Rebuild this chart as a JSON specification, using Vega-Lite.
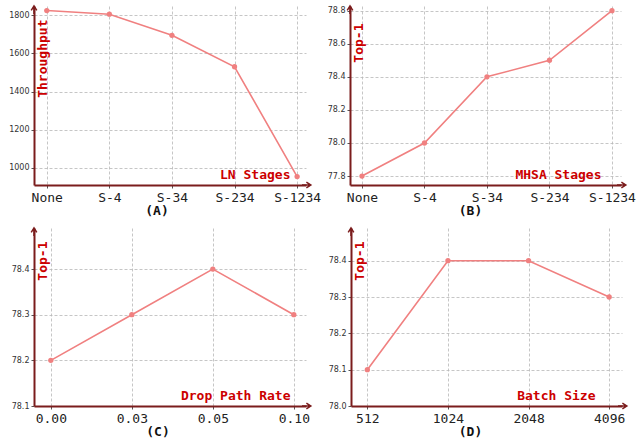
{
  "$schema": "https://vega.github.io/schema/vega-lite/v6.json",
  "background": "white",
  "padding": {"left": 8, "top": 3, "right": 0, "bottom": 0},
  "spacing": 7,
  "config": {
    "view": {"stroke": null},
    "axis": {"gridColor": "#b8b8b8", "gridDash": [3, 2], "gridWidth": 0.8, "domainColor": "#7b1c1c", "domainWidth": 2, "tickColor": "#555555", "tickSize": 3, "titleFont": "DejaVu Sans Mono", "titleFontSize": 13, "titleFontWeight": "bold", "titleColor": "#cc0000", "labelColor": "#222222"},
    "axisX": {"labelFont": "DejaVu Sans Mono", "labelFontSize": 13, "labelAngle": 0, "labelPadding": 3, "titleAngle": 0, "titleAlign": "right", "titleBaseline": "alphabetic"},
    "axisY": {"labelFont": "DejaVu Sans", "labelFontSize": 8, "labelColor": "#333333", "labelPadding": 2, "titleAngle": -90, "titleAlign": "right", "titleBaseline": "top"},
    "title": {"font": "DejaVu Sans Mono", "fontSize": 13, "fontWeight": "bold", "color": "#111111", "orient": "bottom", "offset": 1},
    "line": {"color": "#f08080", "strokeWidth": 1.6},
    "point": {"color": "#f08080", "filled": true, "size": 28, "opacity": 1}
  },
  "vconcat": [
    {
      "spacing": 6,
      "hconcat": [
        {
          "width": 272, "height": 179,
          "title": {"text": "(A)", "dx": -13},
          "data": {"values": [
            {"stage": "None", "throughput": 1825},
            {"stage": "S-4", "throughput": 1806},
            {"stage": "S-34", "throughput": 1695},
            {"stage": "S-234", "throughput": 1530},
            {"stage": "S-1234", "throughput": 953}
          ]},
          "encoding": {
            "x": {"field": "stage", "type": "ordinal", "sort": null, "scale": {"type": "point", "padding": 0.173, "align": 0.59},
                  "axis": {"title": "LN Stages", "grid": true, "titleX": 256, "titleY": -7}},
            "y": {"field": "throughput", "type": "quantitative", "scale": {"domain": [909, 1849], "nice": false, "zero": false},
                  "axis": {"title": "Throughput", "values": [1000, 1200, 1400, 1600, 1800], "format": "d", "titleX": 2, "titleY": 13}}
          },
          "layer": [
            {"mark": "line"},
            {"mark": "point"},
            {"data": {"values": [{}]}, "mark": {"type": "point", "shape": "M -1 0 L 1.2 0 M 0.1 -0.7 L 1.2 0 L 0.1 0.7", "size": 64, "filled": false, "stroke": "#7b1c1c", "strokeWidth": 1.5, "opacity": 1}, "encoding": {"x": {"value": "width"}, "y": {"value": "height"}}},
            {"data": {"values": [{}]}, "mark": {"type": "point", "shape": "M 0 0 L 0 2 M -0.7 1.1 L 0 0 L 0.7 1.1", "size": 64, "filled": false, "stroke": "#7b1c1c", "strokeWidth": 1.5, "opacity": 1}, "encoding": {"x": {"value": 0}, "y": {"value": 0}}}
          ]
        },
        {
          "width": 271, "height": 179,
          "title": {"text": "(B)", "dx": -15},
          "data": {"values": [
            {"stage": "None", "top1": 77.8},
            {"stage": "S-4", "top1": 78.0},
            {"stage": "S-34", "top1": 78.4},
            {"stage": "S-234", "top1": 78.5},
            {"stage": "S-1234", "top1": 78.8}
          ]},
          "encoding": {
            "x": {"field": "stage", "type": "ordinal", "sort": null, "scale": {"type": "point", "padding": 0.168, "align": 0.57},
                  "axis": {"title": "MHSA Stages", "grid": true, "titleX": 251, "titleY": -7}},
            "y": {"field": "top1", "type": "quantitative", "scale": {"domain": [77.746, 78.828], "nice": false, "zero": false},
                  "axis": {"title": "Top-1", "values": [77.8, 78.0, 78.2, 78.4, 78.6, 78.8], "format": ".1f", "titleX": 2, "titleY": 17}}
          },
          "layer": [
            {"mark": "line"},
            {"mark": "point"},
            {"data": {"values": [{}]}, "mark": {"type": "point", "shape": "M -1 0 L 1.2 0 M 0.1 -0.7 L 1.2 0 L 0.1 0.7", "size": 64, "filled": false, "stroke": "#7b1c1c", "strokeWidth": 1.5, "opacity": 1}, "encoding": {"x": {"value": "width"}, "y": {"value": "height"}}},
            {"data": {"values": [{}]}, "mark": {"type": "point", "shape": "M 0 0 L 0 2 M -0.7 1.1 L 0 0 L 0.7 1.1", "size": 64, "filled": false, "stroke": "#7b1c1c", "strokeWidth": 1.5, "opacity": 1}, "encoding": {"x": {"value": 0}, "y": {"value": 0}}}
          ]
        }
      ]
    },
    {
      "spacing": 14,
      "hconcat": [
        {
          "width": 272, "height": 178,
          "title": {"text": "(C)", "dx": -12},
          "data": {"values": [
            {"rate": "0.00", "top1": 78.2},
            {"rate": "0.03", "top1": 78.3},
            {"rate": "0.05", "top1": 78.4},
            {"rate": "0.10", "top1": 78.3}
          ]},
          "encoding": {
            "x": {"field": "rate", "type": "ordinal", "sort": null, "scale": {"type": "point", "padding": 0.179, "align": 0.58},
                  "axis": {"title": "Drop Path Rate", "grid": true, "titleX": 256, "titleY": -7}},
            "y": {"field": "top1", "type": "quantitative", "scale": {"domain": [78.1, 78.49], "nice": false, "zero": false},
                  "axis": {"title": "Top-1", "values": [78.1, 78.2, 78.3, 78.4], "format": ".1f", "titleX": 2, "titleY": 13}}
          },
          "layer": [
            {"mark": "line"},
            {"mark": "point"},
            {"data": {"values": [{}]}, "mark": {"type": "point", "shape": "M -1 0 L 1.2 0 M 0.1 -0.7 L 1.2 0 L 0.1 0.7", "size": 64, "filled": false, "stroke": "#7b1c1c", "strokeWidth": 1.5, "opacity": 1}, "encoding": {"x": {"value": "width"}, "y": {"value": "height"}}},
            {"data": {"values": [{}]}, "mark": {"type": "point", "shape": "M 0 0 L 0 2 M -0.7 1.1 L 0 0 L 0.7 1.1", "size": 64, "filled": false, "stroke": "#7b1c1c", "strokeWidth": 1.5, "opacity": 1}, "encoding": {"x": {"value": 0}, "y": {"value": 0}}}
          ]
        },
        {
          "width": 271, "height": 178,
          "title": {"text": "(D)", "dx": -16},
          "data": {"values": [
            {"batch": "512", "top1": 78.1},
            {"batch": "1024", "top1": 78.4},
            {"batch": "2048", "top1": 78.4},
            {"batch": "4096", "top1": 78.3}
          ]},
          "encoding": {
            "x": {"field": "batch", "type": "ordinal", "sort": null, "scale": {"type": "point", "padding": 0.181, "align": 0.56},
                  "axis": {"title": "Batch Size", "grid": true, "titleX": 244, "titleY": -7}},
            "y": {"field": "top1", "type": "quantitative", "scale": {"domain": [78.0, 78.49], "nice": false, "zero": false},
                  "axis": {"title": "Top-1", "values": [78.0, 78.1, 78.2, 78.3, 78.4], "format": ".1f", "titleX": 2, "titleY": 13}}
          },
          "layer": [
            {"mark": "line"},
            {"mark": "point"},
            {"data": {"values": [{}]}, "mark": {"type": "point", "shape": "M -1 0 L 1.2 0 M 0.1 -0.7 L 1.2 0 L 0.1 0.7", "size": 64, "filled": false, "stroke": "#7b1c1c", "strokeWidth": 1.5, "opacity": 1}, "encoding": {"x": {"value": "width"}, "y": {"value": "height"}}},
            {"data": {"values": [{}]}, "mark": {"type": "point", "shape": "M 0 0 L 0 2 M -0.7 1.1 L 0 0 L 0.7 1.1", "size": 64, "filled": false, "stroke": "#7b1c1c", "strokeWidth": 1.5, "opacity": 1}, "encoding": {"x": {"value": 0}, "y": {"value": 0}}}
          ]
        }
      ]
    }
  ]
}
